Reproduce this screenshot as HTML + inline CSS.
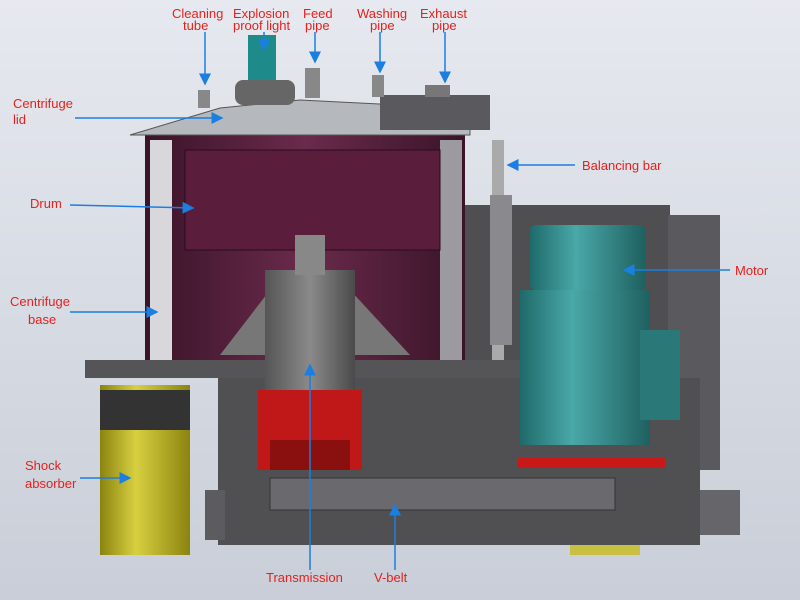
<!DOCTYPE html>
<html><head><meta charset="utf-8"><style>
body{margin:0}
svg{display:block}
text{font-family:"Liberation Sans",sans-serif;font-size:13px;fill:#e8201c}
</style></head><body>
<svg width="800" height="600" viewBox="0 0 800 600" xmlns="http://www.w3.org/2000/svg">
<defs>
<linearGradient id="bg" x1="0" y1="0" x2="0" y2="1"><stop offset="0" stop-color="#e6e9ef"/><stop offset="1" stop-color="#c9ced8"/></linearGradient>
<linearGradient id="dr" x1="0" y1="0" x2="1" y2="0"><stop offset="0" stop-color="#3a1428"/><stop offset=".5" stop-color="#6a2a4c"/><stop offset="1" stop-color="#3a1428"/></linearGradient>
<linearGradient id="yl" x1="0" y1="0" x2="1" y2="0"><stop offset="0" stop-color="#8a8410"/><stop offset=".4" stop-color="#d8d040"/><stop offset="1" stop-color="#8a8410"/></linearGradient>
<linearGradient id="tl" x1="0" y1="0" x2="1" y2="0"><stop offset="0" stop-color="#1f6a6a"/><stop offset=".4" stop-color="#4aa8a8"/><stop offset="1" stop-color="#1f6060"/></linearGradient>
<linearGradient id="gy" x1="0" y1="0" x2="1" y2="0"><stop offset="0" stop-color="#555"/><stop offset=".5" stop-color="#8a8a8a"/><stop offset="1" stop-color="#4a4a4a"/></linearGradient>
<marker id="a" markerWidth="8" markerHeight="8" refX="7" refY="4" orient="auto"><path d="M0,0L8,4L0,8z" fill="#1a7fe0"/></marker>
</defs>
<rect width="800" height="600" fill="url(#bg)"/>
<rect x="460" y="205" width="210" height="265" fill="#4f4f52"/>
<rect x="668" y="215" width="52" height="255" fill="#5a5a5e"/>
<rect x="218" y="378" width="482" height="167" fill="#505053"/>
<rect x="205" y="490" width="20" height="50" fill="#5c5c60"/>
<rect x="700" y="490" width="40" height="45" fill="#66666a"/>
<rect x="145" y="135" width="320" height="225" fill="url(#dr)"/>
<rect x="150" y="140" width="22" height="220" fill="#d8d8dc"/>
<rect x="440" y="140" width="22" height="220" fill="#9a9aa0"/>
<path d="M185,150 L440,150 L440,250 L185,250 Z" fill="#5a1e3c" stroke="#2a0c1c"/>
<path d="M130,135 L220,108 L300,100 L400,105 L470,120 L470,135 Z" fill="#b5b8bc" stroke="#555"/>
<rect x="380" y="95" width="110" height="35" fill="#5a5a5e"/>
<rect x="235" y="80" width="60" height="25" rx="8" fill="#666"/>
<rect x="248" y="35" width="28" height="45" fill="#1e8a8a"/>
<rect x="305" y="68" width="15" height="30" fill="#888"/>
<rect x="198" y="90" width="12" height="18" fill="#888"/>
<rect x="372" y="75" width="12" height="22" fill="#888"/>
<rect x="425" y="85" width="25" height="12" fill="#777"/>
<rect x="492" y="140" width="12" height="230" fill="#aaa"/>
<rect x="490" y="195" width="22" height="150" fill="#8a8a8e"/>
<rect x="85" y="360" width="590" height="18" fill="#555558"/>
<path d="M220,355 L270,290 L350,290 L410,355 Z" fill="#777"/>
<rect x="265" y="270" width="90" height="130" fill="url(#gy)"/>
<rect x="295" y="235" width="30" height="40" fill="#888"/>
<rect x="258" y="390" width="104" height="80" fill="#c01818"/>
<rect x="270" y="440" width="80" height="30" fill="#8a1010"/>
<rect x="270" y="478" width="345" height="32" fill="#6a6a6e" stroke="#333"/>
<rect x="530" y="225" width="115" height="65" rx="6" fill="url(#tl)"/>
<rect x="520" y="290" width="130" height="155" fill="url(#tl)"/>
<rect x="640" y="330" width="40" height="90" fill="#2a7878"/>
<rect x="518" y="458" width="147" height="10" fill="#c81818"/>
<rect x="100" y="385" width="90" height="170" fill="url(#yl)"/>
<rect x="100" y="390" width="90" height="40" fill="#333"/>
<rect x="570" y="545" width="70" height="10" fill="#c8c040"/>
<g stroke="#1a7fe0" stroke-width="1.5" marker-end="url(#a)">
<line x1="205" y1="32" x2="205" y2="84"/>
<line x1="264" y1="32" x2="264" y2="50"/>
<line x1="315" y1="32" x2="315" y2="62"/>
<line x1="380" y1="32" x2="380" y2="72"/>
<line x1="445" y1="32" x2="445" y2="82"/>
<line x1="75" y1="118" x2="222" y2="118"/>
<line x1="70" y1="205" x2="193" y2="208"/>
<line x1="70" y1="312" x2="157" y2="312"/>
<line x1="80" y1="478" x2="130" y2="478"/>
<line x1="575" y1="165" x2="508" y2="165"/>
<line x1="730" y1="270" x2="624" y2="270"/>
<line x1="310" y1="570" x2="310" y2="365"/>
<line x1="395" y1="570" x2="395" y2="505"/>
</g>
<text x="172" y="18">Cleaning</text><text x="183" y="30">tube</text>
<text x="233" y="18">Explosion</text><text x="233" y="30">proof light</text>
<text x="303" y="18">Feed</text><text x="305" y="30">pipe</text>
<text x="357" y="18">Washing</text><text x="370" y="30">pipe</text>
<text x="420" y="18">Exhaust</text><text x="432" y="30">pipe</text>
<text x="13" y="108">Centrifuge</text><text x="13" y="124">lid</text>
<text x="30" y="208">Drum</text>
<text x="10" y="306">Centrifuge</text><text x="28" y="324">base</text>
<text x="25" y="470">Shock</text><text x="25" y="488">absorber</text>
<text x="582" y="170">Balancing bar</text>
<text x="735" y="275">Motor</text>
<text x="266" y="582">Transmission</text>
<text x="374" y="582">V-belt</text>
</svg>
</body></html>
